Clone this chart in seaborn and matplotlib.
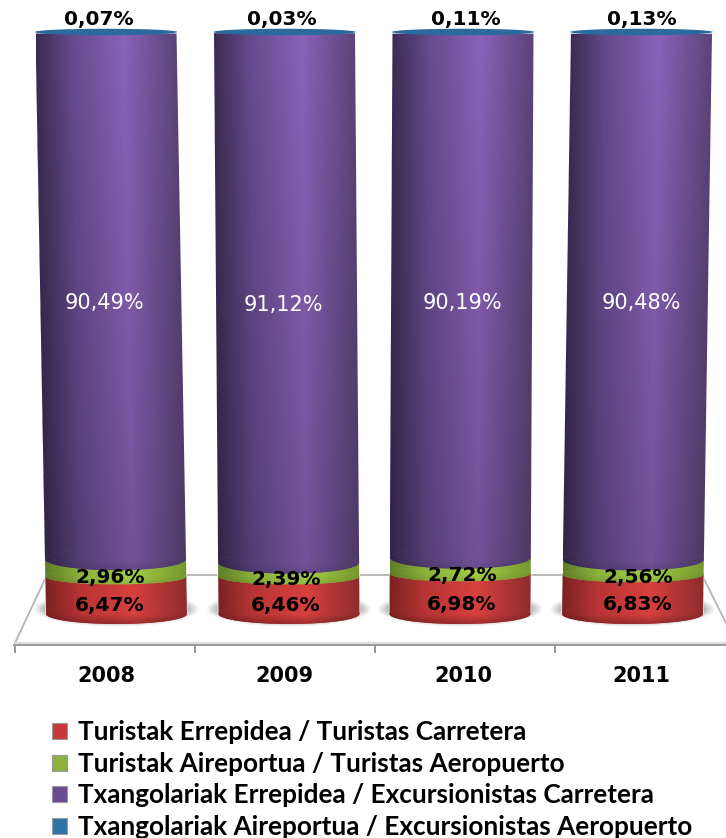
import matplotlib
matplotlib.use('Agg')
import matplotlib.pyplot as plt
from matplotlib.colors import LinearSegmentedColormap
from matplotlib.patches import Ellipse, Polygon, Patch
from matplotlib.transforms import Affine2D
import numpy as np
import seaborn as sns

years = ['2008', '2009', '2010', '2011']
turistak_errepidea = [6.47, 6.46, 6.98, 6.83]
turistak_aireportua = [2.96, 2.39, 2.72, 2.56]
txango_errepidea = [90.49, 91.12, 90.19, 90.48]
txango_aireportua = [0.07, 0.03, 0.11, 0.13]

series_names = ['Turistak Errepidea / Turistas Carretera',
                'Turistak Aireportua / Turistas Aeropuerto',
                'Txangolariak Errepidea / Excursionistas Carretera',
                'Txangolariak Aireportua / Excursionistas Aeropuerto']
series_values = [turistak_errepidea, turistak_aireportua, txango_errepidea, txango_aireportua]
colors = ['#c8383a', '#8db33c', '#6b4a96', '#2f74a8']
shades = [('#7a2222', '#b83434', '#d8403f', '#8e2c2c'),
          ('#5f7c28', '#8db33c', '#a3cf46', '#76962f'),
          ('#3c2c55', '#654a8c', '#8a62b8', '#5a4478')]
label_colors = ['black', 'black', 'white', 'black']

W, H = 726, 838
PX = 5.81        # pixels per percent
ZERO = 614       # image row of 0 %
CENTER = 106     # image column of first category
STEP = 178.5     # pixels between categories

to_x = lambda p: (p - CENTER) / STEP
to_y = lambda p: (ZERO - p) / PX

sns.set_theme(style='white')
fig = plt.figure(figsize=(W / 100, H / 100), dpi=100)
ax = fig.add_axes([14 / W, (H - 645) / H, 712 / W, 645 / H])

bottom = np.zeros(4)
for name, vals, col in zip(series_names, series_values, colors):
    sns.barplot(x=years, y=vals, bottom=bottom, color=col, width=0.79, ax=ax,
                saturation=1, zorder=3)
    bottom = bottom + np.array(vals)
bars = list(ax.patches)

ax.set_xlim(to_x(14), to_x(726))
ax.set_ylim(to_y(645), to_y(0))

# columns lean towards the middle in the original perspective
lean_px = [10.5, 4.5, -3, -9]
def lean(i):
    k = -lean_px[i] / STEP / 100
    return Affine2D.from_values(1, 0, k, 1, -k * 100, 0) + ax.transData

# floor of the 3d chart
floor = Polygon([(to_x(14), to_y(645)), (to_x(47), to_y(575)), (to_x(702), to_y(575)), (to_x(737), to_y(645))],
                closed=True, fc='white', ec='#b4b4b4', lw=1.3, zorder=1)
ax.add_patch(floor)
ax.axhline(to_y(642.5), color='#dedede', lw=2.5, zorder=1.5)

stops = [0, 0.25, 0.62, 1]
half_h = [10, 8, 11]
for s in range(3):
    cmap = LinearSegmentedColormap.from_list('c', list(zip(stops, shades[s])), N=128)
    side = cmap(np.linspace(0, 1, 128))[:, :3]
    for i in range(4):
        b = bars[s * 4 + i]
        b.set_transform(lean(i))
        x0, w, y0, h = b.get_x(), b.get_width(), b.get_y(), b.get_height()
        # purple gets duller towards the floor
        fade = np.linspace(1, 0.84, 64) if s == 2 else np.ones(8)
        rgb = fade[:, None, None] * side[None, :, :]
        im = ax.imshow(rgb, aspect='auto', origin='upper', extent=(x0, x0 + w, y0, y0 + h),
                       zorder=3 + s * 0.1, interpolation='bilinear')
        im.set_transform(lean(i))
        im.set_clip_path(b.get_path(), b.get_transform())
        # curved lower edge of the segment, only its lower half darkens
        eh = 2 * half_h[s] / PX
        e = Ellipse((x0 + w / 2, y0), w, eh, fc=colors[s], ec='none', zorder=3 + s * 0.1 + 0.01)
        ax.add_patch(e)
        e.set_transform(lean(i))
        low = 0.74 if s == 0 else 0.9
        fade2 = np.r_[np.ones(16), np.linspace(1, low, 16)] * fade[-1]
        rgb2 = fade2[:, None, None] * side[None, :, :]
        im2 = ax.imshow(rgb2, aspect='auto', origin='upper', extent=(x0, x0 + w, y0 - eh / 2, y0 + eh / 2),
                        zorder=3 + s * 0.1 + 0.02, interpolation='bilinear')
        im2.set_transform(lean(i))
        im2.set_clip_path(e.get_path(), e.get_transform())
        # soft shadow on the floor
        if s == 0:
            for grow, a in zip([1.16, 1.12, 1.08, 1.04], [0.12, 0.18, 0.22, 0.3]):
                sh = Ellipse((x0 + w / 2, to_y(609)), w * grow, 26 / PX * grow ** 2, fc='#8f8f8f', ec='none', alpha=a, zorder=2)
                ax.add_patch(sh)
                sh.set_transform(lean(i))

ax.set_xlim(to_x(14), to_x(726))
ax.set_ylim(to_y(645), to_y(0))

# thin blue lid on top of each column
for i in range(4):
    b = bars[12 + i]
    lid = Ellipse((b.get_x() + b.get_width() / 2, to_y(32)), b.get_width() * 1.01, 6.5 / PX,
                  fc='#2a6a9c', ec='none', zorder=5)
    ax.add_patch(lid)
    lid.set_transform(lean(i))

# value labels, placed by hand as in the original
label_px = [[(110, 605), (286, 605), (462, 604), (638, 604)],
            [(110, 578), (286, 580), (462, 576), (638, 577)],
            [(104, 303), (283, 305), (462, 303), (641, 303)],
            [(98.5, 19), (282, 19), (466, 19), (642, 19)]]
for s, vals in enumerate(series_values):
    for i, v in enumerate(vals):
        lx, ly = label_px[s][i]
        ax.text(to_x(lx), to_y(ly), f'{v:.2f}%'.replace('.', ','), ha='center', va='center',
                fontsize=15 if s == 2 else 14.5, fontweight='normal' if s == 2 else 'bold',
                fontfamily='DejaVu Sans', color=label_colors[s], zorder=8)

# category labels in the middle, ticks between them
ax.set_xticks(range(4), years)
ax.set_xticks([to_x(14.5), to_x(195), to_x(375), to_x(555)], minor=True)
ax.tick_params(axis='x', which='major', length=0, pad=15, labelsize=15)
ax.tick_params(axis='x', which='minor', bottom=True, length=6, width=1.3, color='#8c8c8c')
for t in ax.get_xticklabels():
    t.set_fontfamily('DejaVu Sans')
    t.set_fontweight('bold')
    t.set_color('black')
ax.yaxis.set_visible(False)
for side_name in ['top', 'left', 'right']:
    ax.spines[side_name].set_visible(False)
ax.spines['bottom'].set_color('#9a9a9a')
ax.spines['bottom'].set_linewidth(1.4)
ax.patch.set_alpha(0)

handles = [Patch(fc=c, ec='#9a9a9a', lw=0.8, label=n) for c, n in zip(colors, series_names)]
leg = fig.legend(handles=handles, loc='lower left', bbox_to_anchor=(52 / W, -1 / H), frameon=False,
                 prop={'family': 'Lato', 'weight': 'bold', 'size': 18.8}, handlelength=0.58, handleheight=0.58,
                 handletextpad=0.4, labelspacing=0.29, borderpad=0, borderaxespad=0)
for t in leg.get_texts():
    t.set_color('black')

plt.savefig('out.png', dpi=100)
